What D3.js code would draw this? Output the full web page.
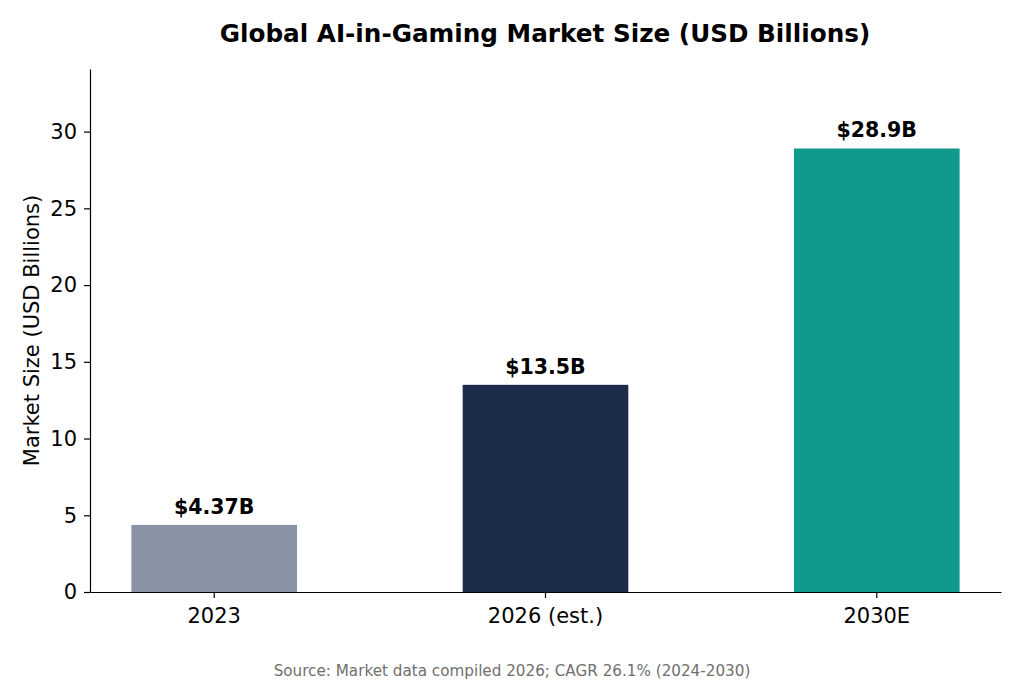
<!DOCTYPE html>
<html>
<head>
<meta charset="utf-8">
<script src="https://cdn.jsdelivr.net/npm/d3@7"></script>
<style>
  body { margin: 0; background: #fff; }
  text { font-family: "DejaVu Sans", sans-serif; }
</style>
</head>
<body>
<div class="container"></div>
<script>
const w = 1024;
const h = 683;
const margin = { top: 69, right: 23, bottom: 91, left: 90 };

const categories = ['2023', '2026 (est.)', '2030E'];
const values = [4.37, 13.5, 28.9];
const valueLabels = ['$4.37B', '$13.5B', '$28.9B'];
const barColors = ['#8a93a6', '#1c2b4a', '#11998e'];
const yTicks = [0, 5, 10, 15, 20, 25, 30];

const svg = d3.select('.container').append('svg')
  .attr('width', w)
  .attr('height', h);

const x = d3.scaleBand()
  .domain(categories)
  .range([margin.left, w - margin.right])
  .paddingInner(0.5)
  .paddingOuter(0.125);

const y = d3.scaleLinear()
  .domain([0, 34.08])
  .range([h - margin.bottom, margin.top]);

// bars
svg.selectAll('rect.bar')
  .data(values)
  .enter().append('rect')
  .attr('class', 'bar')
  .attr('x', (d, i) => x(categories[i]))
  .attr('y', (d) => y(d))
  .attr('width', x.bandwidth())
  .attr('height', (d) => y(0) - y(d))
  .attr('fill', (d, i) => barColors[i]);

// value labels
svg.selectAll('text.val')
  .data(values)
  .enter().append('text')
  .attr('class', 'val')
  .attr('x', (d, i) => x(categories[i]) + x.bandwidth() / 2)
  .attr('y', (d) => y(d) - 11)
  .attr('text-anchor', 'middle')
  .attr('font-size', '20.5px')
  .attr('font-weight', 'bold')
  .text((d, i) => valueLabels[i]);

// axes
const xAxis = svg.append('g')
  .attr('transform', `translate(0,${h - margin.bottom})`)
  .call(d3.axisBottom(x).tickSize(6).tickPadding(10).tickSizeOuter(0));
xAxis.selectAll('text').attr('font-size', '21px').attr('fill', '#000');

const yAxis = svg.append('g')
  .attr('transform', `translate(${margin.left},0)`)
  .call(d3.axisLeft(y).tickValues(yTicks).tickSize(6).tickPadding(7).tickSizeOuter(0));
yAxis.selectAll('text').attr('font-size', '21px').attr('fill', '#000');

svg.selectAll('.domain, .tick line').attr('stroke', '#000').attr('stroke-width', 1.2);
svg.selectAll('text').style('font-family', '"DejaVu Sans", sans-serif');

// titles
svg.append('text')
  .attr('x', 545)
  .attr('y', 42)
  .attr('text-anchor', 'middle')
  .attr('font-size', '24.7px')
  .attr('font-weight', 'bold')
  .text('Global AI-in-Gaming Market Size (USD Billions)');

svg.append('text')
  .attr('transform', `translate(39,${(margin.top + h - margin.bottom) / 2}) rotate(-90)`)
  .attr('text-anchor', 'middle')
  .attr('font-size', '21px')
  .text('Market Size (USD Billions)');

svg.append('text')
  .attr('x', 512)
  .attr('y', 676)
  .attr('text-anchor', 'middle')
  .attr('font-size', '15.2px')
  .attr('fill', '#6f6f6f')
  .text('Source: Market data compiled 2026; CAGR 26.1% (2024-2030)');
</script>
</body>
</html>
